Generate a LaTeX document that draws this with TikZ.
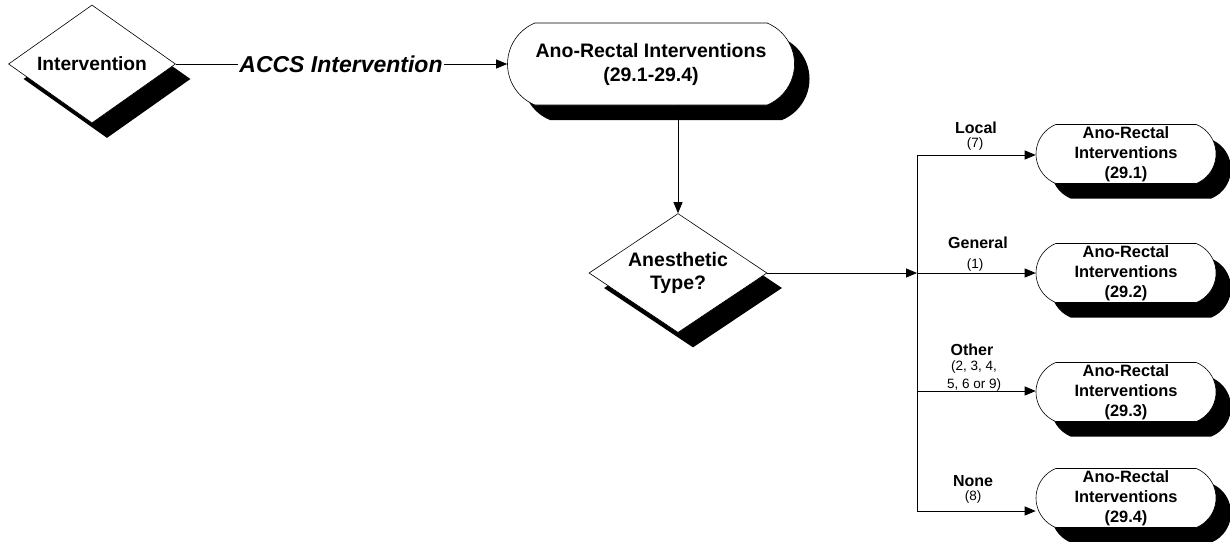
\documentclass[tikz,border=0pt]{standalone}
\usepackage{fontspec}
\setmainfont{Liberation Sans}
\usetikzlibrary{shapes.geometric,shapes.misc,shadows,arrows.meta,positioning}

\begin{document}
\begin{tikzpicture}[x=1pt,y=-1pt]
        \tikzstyle{shadowed}=[drop shadow={shadow xshift=15pt,shadow yshift=-15pt,fill=black,opacity=1}]
        \tikzstyle{decision}=[diamond,draw,fill=white,line width=0.6pt,inner sep=0pt,align=center,shadowed]
        \tikzstyle{terminal}=[rounded rectangle,rounded rectangle arc length=135,draw,fill=white,line width=0.6pt,inner sep=0pt,align=center,shadowed]
        \tikzstyle{small node}=[terminal,minimum width=180pt,minimum height=59pt,node distance=119pt,font=\fontsize{16.4}{20}\selectfont\bfseries]
        \tikzstyle{branch}=[inner sep=0pt,font=\fontsize{16}{19}\selectfont\bfseries]
        \tikzstyle{code}=[inner sep=0pt,align=center,font=\fontsize{13.5}{18}\selectfont]
        \tikzstyle{line}=[line width=0.8pt]
        \tikzstyle{flow}=[line,-{Triangle[length=11pt,width=9pt]}]
        \useasboundingbox (0,0) rectangle (1230,541);

        \node[decision,aspect=1.4,minimum width=167pt,minimum height=118pt,font=\fontsize{19.2}{23}\selectfont\bfseries] (Intervention) at (92,64) {Intervention};
        \node[inner sep=1pt,font=\fontsize{23}{27}\selectfont\bfseries\itshape] (ACCS) at (341,64) {ACCS Intervention};
        \node[terminal,minimum width=287pt,minimum height=82pt,font=\fontsize{19.5}{24}\selectfont\bfseries] (AnoRectal) at (651,64) {Ano-Rectal Interventions\\(29.1-29.4)};
        \node[decision,aspect=1.5,minimum width=178pt,minimum height=119pt,font=\fontsize{19.5}{23}\selectfont\bfseries] (Anesthetic) at (678,273) {Anesthetic\\Type?};

        \node[small node] (Local) at (1126,154) {Ano-Rectal\\Interventions\\(29.1)};
        \node[small node] (General) [below of=Local] {Ano-Rectal\\Interventions\\(29.2)};
        \node[small node] (Other) [below of=General] {Ano-Rectal\\Interventions\\(29.3)};
        \node[small node,node distance=106pt] (None) [below of=Other] {Ano-Rectal\\Interventions\\(29.4)};

        \node[branch] (LocalText) at (976,128) {Local};
        \node[code] (LocalCode) at (975,144) {(7)};
        \node[branch] (GeneralText) at (978,243) {General};
        \node[code] (GeneralCode) at (975,265) {(1)};
        \node[branch] (OtherText) at (972,350) {Other};
        \node[code] (OtherCode) at (974,376) {(2, 3, 4,\\5, 6 or 9)};
        \node[branch] (NoneText) at (973,481) {None};
        \node[code] (NoneCode) at (973,497) {(8)};

        \coordinate (tLocal) at (917,155);
        \coordinate (tGeneral) at (917,273);
        \coordinate (tOther) at (917,391);
        \coordinate (tNone) at (917,511);

        \draw[line] (Intervention.east) -- (ACCS.west);
        \draw[flow] (ACCS.east) -- (AnoRectal.west);
        \draw[flow] (Anesthetic.north |- AnoRectal.south) -- (Anesthetic.north);
        \draw[flow] (Anesthetic.east) -- (tGeneral);
        \draw[line] (tLocal) -- (tNone);
        \draw[flow] (tLocal) -- (tLocal -| Local.west);
        \draw[flow] (tGeneral) -- (tGeneral -| General.west);
        \draw[flow] (tOther) -- (tOther -| Other.west);
        \draw[flow] (tNone) -- (tNone -| None.west);
    \end{tikzpicture}
\end{document}
